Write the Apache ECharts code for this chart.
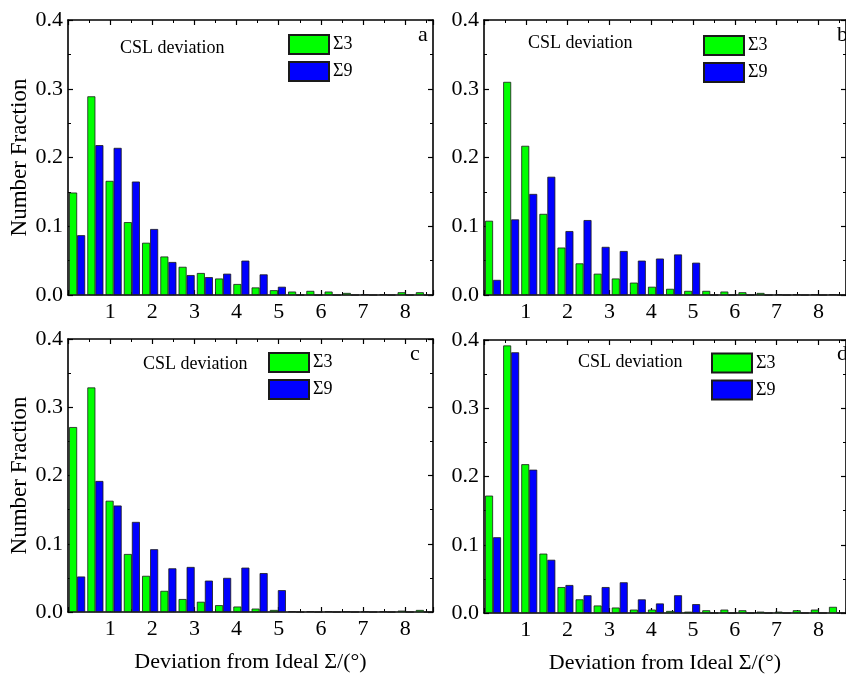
<!DOCTYPE html>
<html><head><meta charset="utf-8">
<script src="https://cdn.jsdelivr.net/npm/echarts@6/dist/echarts.min.js"></script>
<style>html,body{margin:0;padding:0;background:#fff}#c{width:846px;height:675px}</style>
</head><body><div id="c"></div>
<script>
// Bin centres (degrees), 20 bins over 0 .. 8.66
const binCenters = ['0.22','0.65','1.08','1.52','1.95','2.38','2.81','3.25','3.68','4.11','4.55','4.98','5.41','5.85','6.28','6.71','7.14','7.58','8.01','8.44'];
const xMin = 0, xMax = 8.66, xInterval = 1;
const yMin = 0, yMax = 0.4, yInterval = 0.1;
const seriesNames = ['\u03A33', '\u03A39'];

const sigma3A = [0.149,0.289,0.166,0.106,0.076,0.056,0.041,0.032,0.024,0.016,0.011,0.007,0.005,0.006,0.005,0.003,0.001,0.001,0.004,0.004];
const sigma9A = [0.087,0.218,0.214,0.165,0.096,0.048,0.029,0.026,0.031,0.050,0.030,0.012,0,0,0,0,0,0,0,0];
const sigma3B = [0.108,0.310,0.217,0.118,0.069,0.046,0.031,0.024,0.018,0.012,0.009,0.006,0.006,0.005,0.004,0.003,0.001,0.001,0.001,0.001];
const sigma9B = [0.022,0.110,0.147,0.172,0.093,0.109,0.070,0.064,0.050,0.053,0.059,0.047,0,0,0,0,0,0,0,0];
const sigma3C = [0.271,0.329,0.163,0.085,0.053,0.031,0.019,0.015,0.010,0.008,0.005,0.003,0.001,0.001,0.001,0.001,0.001,0.001,0.002,0.003];
const sigma9C = [0.052,0.192,0.156,0.132,0.092,0.064,0.066,0.046,0.050,0.065,0.057,0.032,0,0,0,0,0,0,0,0];
const sigma3D = [0.172,0.392,0.218,0.087,0.038,0.020,0.011,0.008,0.005,0.005,0.003,0.002,0.004,0.005,0.004,0.002,0.002,0.004,0.005,0.009];
const sigma9D = [0.111,0.382,0.210,0.078,0.041,0.026,0.038,0.045,0.020,0.014,0.026,0.013,0,0,0,0,0,0,0,0];

const panelLabels = ['a','b','c','d'];
const noteText = 'CSL deviation';
const yTitle = 'Number Fraction';
const xTitle = 'Deviation from Ideal \u03A3/(\u00B0)';

const FONT = 'Liberation Serif';
const panels = [
  {s3:sigma3A, s9:sigma9A, grid:{left:68,top:20,width:365,height:275}, yName:true, xName:false,
   legend:{left:288,top:34}, note:{x:120,y:48}, lab:{x:418,y:35.5}},
  {s3:sigma3B, s9:sigma9B, grid:{left:484,top:20,width:365,height:275}, yName:false, xName:false,
   legend:{left:703,top:35}, note:{x:528,y:43.5}, lab:{x:837,y:35.2}},
  {s3:sigma3C, s9:sigma9C, grid:{left:68,top:339,width:365,height:273}, yName:true, xName:true,
   legend:{left:268,top:352}, note:{x:143,y:364}, lab:{x:410,y:354.2}},
  {s3:sigma3D, s9:sigma9D, grid:{left:484,top:340,width:365,height:273}, yName:false, xName:true,
   legend:{left:711,top:352.5}, note:{x:578,y:362.3}, lab:{x:837,y:354.2}}
];

const axisLine = {show:true, onZero:false, lineStyle:{color:'#000', width:1.6}};
const grids = [], xAxes = [], yAxes = [], series = [], legends = [], graphics = [];

panels.forEach((p, i) => {
  grids.push(Object.assign({containLabel:false}, p.grid));
  const base = xAxes.length;
  xAxes.push({type:'category', gridIndex:i, data:binCenters, show:false, boundaryGap:true});
  xAxes.push({type:'value', gridIndex:i, position:'bottom', min:xMin, max:xMax, interval:xInterval,
    axisLine, axisTick:{show:true, inside:true, length:5, lineStyle:{color:'#000', width:1.2}},
    minorTick:{show:true, splitNumber:2, length:3, lineStyle:{color:'#000', width:1}},
    splitLine:{show:false},
    axisLabel:{show:true, showMinLabel:false, showMaxLabel:false, margin:6, color:'#000', fontFamily:FONT, fontSize:22},
    name: p.xName ? xTitle : '', nameLocation:'middle', nameGap:39,
    nameTextStyle:{color:'#000', fontFamily:FONT, fontSize:22}});
  xAxes.push({type:'value', gridIndex:i, position:'top', min:xMin, max:xMax, interval:xInterval,
    axisLine, axisTick:{show:true, inside:true, length:5, lineStyle:{color:'#000', width:1.2}},
    minorTick:{show:true, splitNumber:2, length:3, lineStyle:{color:'#000', width:1}},
    splitLine:{show:false}, axisLabel:{show:false}});
  const ybase = yAxes.length;
  yAxes.push({type:'value', gridIndex:i, position:'left', min:yMin, max:yMax, interval:yInterval,
    axisLine, axisTick:{show:true, inside:true, length:5, lineStyle:{color:'#000', width:1.2}},
    minorTick:{show:true, splitNumber:2, length:3, lineStyle:{color:'#000', width:1}},
    splitLine:{show:false},
    axisLabel:{show:true, margin:5, color:'#000', fontFamily:FONT, fontSize:22, formatter:v=>v.toFixed(1)},
    name: p.yName ? yTitle : '', nameLocation:'middle', nameGap:36,
    nameTextStyle:{color:'#000', fontFamily:FONT, fontSize:23}});
  yAxes.push({type:'value', gridIndex:i, position:'right', min:yMin, max:yMax, interval:yInterval,
    axisLine, axisTick:{show:true, inside:true, length:5, lineStyle:{color:'#000', width:1.2}},
    minorTick:{show:true, splitNumber:2, length:3, lineStyle:{color:'#000', width:1}},
    splitLine:{show:false}, axisLabel:{show:false}});

  series.push({type:'bar', name:seriesNames[0], xAxisIndex:base, yAxisIndex:ybase, data:p.s3,
    barGap:'0%', barCategoryGap:'12%',
    itemStyle:{color:'#00FF00', borderColor:'#1a1a1a', borderWidth:0.8}});
  series.push({type:'bar', name:seriesNames[1], xAxisIndex:base, yAxisIndex:ybase, data:p.s9,
    barGap:'0%', barCategoryGap:'12%',
    itemStyle:{color:'#0000FF', borderColor:'#1a1a1a', borderWidth:0.8}});

  legends.push({data:seriesNames, orient:'vertical', left:p.legend.left, top:p.legend.top, padding:0,
    itemWidth:40, itemHeight:19, itemGap:6, icon:'rect', selectedMode:false,
    textStyle:{color:'#000', fontFamily:FONT, fontSize:18, lineHeight:19, padding:[0,0,0,-1]}});

  graphics.push({type:'text', x:p.note.x, y:p.note.y,
    style:{text:noteText, fill:'#000', font:'18px "Liberation Serif"', textAlign:'left', textVerticalAlign:'middle'}});
  graphics.push({type:'text', x:p.lab.x, y:p.lab.y,
    style:{text:panelLabels[i], fill:'#000', font:'22px "Liberation Serif"', textAlign:'left', textVerticalAlign:'middle'}});
});

const chart = echarts.init(document.getElementById('c'), null, {renderer:'canvas'});
chart.setOption({
  animation:false,
  backgroundColor:'#fff',
  grid:grids, xAxis:xAxes, yAxis:yAxes, series, legend:legends, graphic:graphics
});
</script></body></html>
